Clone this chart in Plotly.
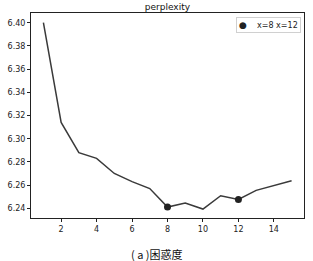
import plotly.graph_objects as go

x_vals = list(range(1, 16))
perplexity = [6.400, 6.314, 6.288, 6.283, 6.270, 6.263, 6.257, 6.241, 6.2445, 6.2393, 6.2508, 6.2476, 6.2554, 6.2597, 6.2638]
highlight_x = [8, 12]
highlight_y = [perplexity[7], perplexity[11]]
legend_label = "x=8 x=12"
y_ticks = [6.24, 6.26, 6.28, 6.30, 6.32, 6.34, 6.36, 6.38, 6.40]
x_ticks = [2, 4, 6, 8, 10, 12, 14]

fig = go.Figure()
fig.add_trace(go.Scatter(x=x_vals, y=perplexity, mode="lines",
                         line=dict(color="#3a3a3a", width=1.5), showlegend=False))
fig.add_trace(go.Scatter(x=highlight_x, y=highlight_y, mode="markers",
                         marker=dict(color="#222222", size=7), name=legend_label,
                         showlegend=False))

axis_common = dict(showgrid=False, zeroline=False, showline=True, linecolor="#222",
                   linewidth=1, mirror=True, ticks="outside", ticklen=3, tickcolor="#222",
                   tickfont=dict(family="DejaVu Sans", size=8, color="#222"))
fig.update_xaxes(range=[0.3, 15.7], tickvals=x_ticks, **axis_common)
fig.update_yaxes(range=[6.2316, 6.4084], tickvals=y_ticks,
                 ticktext=[f"{v:.2f}" for v in y_ticks], **axis_common)

fig.update_layout(
    width=313, height=261,
    margin=dict(l=29, r=8, t=13, b=43),
    paper_bgcolor="white", plot_bgcolor="white",
    title=dict(text="perplexity", x=0.535, xanchor="center", y=0.985, yanchor="top",
               font=dict(family="DejaVu Sans", size=9, color="#111")),
    annotations=[
        dict(text="( a )困惑度", xref="paper", yref="paper", x=0.46, y=-0.125,
             xanchor="center", yanchor="top", showarrow=False,
             font=dict(family="Noto Sans CJK SC", size=11, color="#111")),
        dict(text="<span style='font-size:9px'>●</span>&nbsp;&nbsp;&nbsp;&nbsp;" + legend_label,
             xref="paper", yref="paper", x=0.99, y=0.942,
             xanchor="right", yanchor="middle", showarrow=False,
             bgcolor="white", bordercolor="#d0d0d0", borderwidth=1, borderpad=2,
             font=dict(family="DejaVu Sans", size=8, color="#222")),
    ],
)

fig.write_html("out.html")
